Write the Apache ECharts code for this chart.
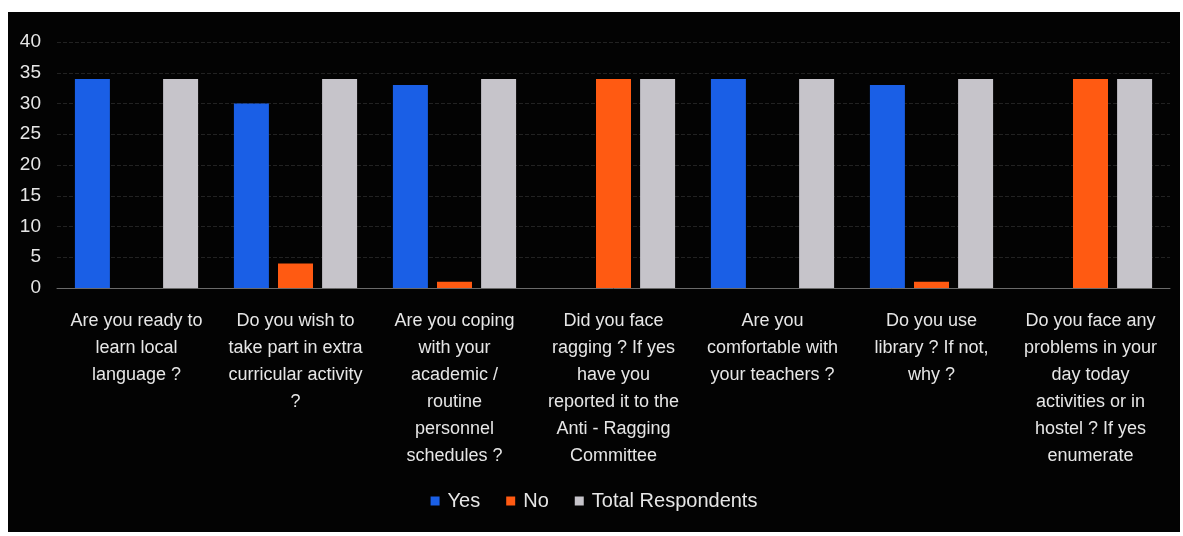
<!DOCTYPE html>
<html>
<head>
<meta charset="utf-8">
<script src="https://cdn.jsdelivr.net/npm/echarts@6/dist/echarts.min.js"></script>
<style>
  html, body { margin: 0; padding: 0; background: #fff; }
  #chart { position: absolute; left: 8px; top: 12px; width: 1172px; height: 520px; background: #030303; }
</style>
</head>
<body>
<div id="chart"></div>
<script>
// 问题（x轴分类，手动换行）
const categories = [
  "Are you ready to\nlearn local\nlanguage ?",
  "Do you wish to\ntake part in extra\ncurricular activity\n?",
  "Are you coping\nwith your\nacademic /\nroutine\npersonnel\nschedules ?",
  "Did you face\nragging ? If yes\nhave you\nreported it to the\nAnti - Ragging\nCommittee",
  "Are you\ncomfortable with\nyour teachers ?",
  "Do you use\nlibrary ? If not,\nwhy ?",
  "Do you face any\nproblems in your\nday today\nactivities or in\nhostel ? If yes\nenumerate"
];
const yesData = [34, 30, 33, 0, 34, 33, 0];
const noData = [0, 4, 1, 34, 0, 1, 34];
const totalData = [34, 34, 34, 34, 34, 34, 34];
const yTicks = [0, 5, 10, 15, 20, 25, 30, 35, 40];

const textColor = "#e6e6e6";
const font = "'Liberation Sans', Arial, sans-serif";

const chart = echarts.init(document.getElementById("chart"));
chart.setOption({
  backgroundColor: "#030303",
  textStyle: { fontFamily: font },
  grid: { left: 49, right: 10, top: 30, height: 246 },
  legend: {
    top: 474,
    left: "center",
    icon: "rect",
    itemWidth: 9,
    itemHeight: 9,
    itemGap: 26,
    textStyle: { color: textColor, fontSize: 20, fontFamily: font, padding: [0, 0, 0, 3] }
  },
  xAxis: {
    type: "category",
    data: categories,
    axisTick: { show: false },
    axisLine: { show: true, lineStyle: { color: "#6a6a6a", width: 1 } },
    axisLabel: {
      color: textColor,
      fontSize: 18,
      lineHeight: 27,
      margin: 20,
      interval: 0,
      fontFamily: font
    }
  },
  yAxis: {
    type: "value",
    min: yTicks[0],
    max: yTicks[yTicks.length - 1],
    interval: 5,
    axisLine: { show: false },
    axisTick: { show: false },
    axisLabel: { color: textColor, fontSize: 19, margin: 16, fontFamily: font },
    splitLine: { show: true, lineStyle: { color: "#222", type: "dashed" } }
  },
  series: [
    { name: "Yes", type: "bar", data: yesData, barWidth: 35, barGap: "26%", itemStyle: { color: "#1a5fe6" } },
    { name: "No", type: "bar", data: noData, barWidth: 35, barGap: "26%", itemStyle: { color: "#ff5a12" } },
    { name: "Total Respondents", type: "bar", data: totalData, barWidth: 35, barGap: "26%", itemStyle: { color: "#c6c4ca" } }
  ]
});
</script>
</body>
</html>
